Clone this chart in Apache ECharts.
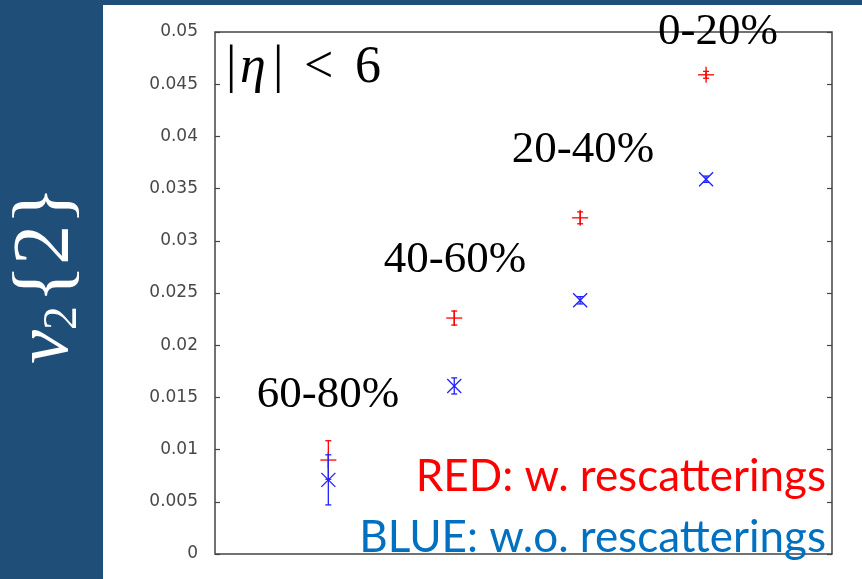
<!DOCTYPE html>
<html>
<head>
<meta charset="utf-8">
<script src="https://cdn.jsdelivr.net/npm/echarts@6/dist/echarts.min.js"></script>
<style>
  html, body { margin: 0; padding: 0; background: #1F4E79; }
  #chart { width: 862px; height: 579px; }
</style>
</head>
<body>
<div id="chart"></div>
<script>
// Centrality classes, left to right
const centralityClasses = ['60-80%', '40-60%', '20-40%', '0-20%'];
const classIndex = [1, 2, 3, 4];

// v2{2}, with hadronic rescatterings (red)
const redV2 = [0.0090, 0.0226, 0.0322, 0.0459];
const redErr = [0.00185, 0.00067, 0.00057, 0.00033];

// v2{2}, without rescatterings (blue)
const blueV2 = [0.0071, 0.0161, 0.0243, 0.0359];
const blueErr = [0.0024, 0.00077, 0.00035, 0.0003];

// y-axis ticks
const yMin = 0, yMax = 0.05, yStep = 0.005;

const chart = echarts.init(document.getElementById('chart'));

// error bar with caps plus a '+' or 'x' marker
function errorMarker(shape, color) {
  return function (params, api) {
    const x = api.value(0), y = api.value(1), e = api.value(2);
    const c = api.coord([x, y]);
    const top = api.coord([x, y + e]);
    const bot = api.coord([x, y - e]);
    const cap = 3, m = 8, d = 7;
    const style = { stroke: color, lineWidth: 1.3, fill: null };
    const children = [
      { type: 'line', shape: { x1: c[0], y1: top[1], x2: c[0], y2: bot[1] }, style },
      { type: 'line', shape: { x1: c[0] - cap, y1: top[1], x2: c[0] + cap, y2: top[1] }, style },
      { type: 'line', shape: { x1: c[0] - cap, y1: bot[1], x2: c[0] + cap, y2: bot[1] }, style }
    ];
    if (shape === 'plus') {
      children.push({ type: 'line', shape: { x1: c[0] - m, y1: c[1], x2: c[0] + m, y2: c[1] }, style });
      children.push({ type: 'line', shape: { x1: c[0], y1: c[1] - m, x2: c[0], y2: c[1] + m }, style });
    } else {
      children.push({ type: 'line', shape: { x1: c[0] - d, y1: c[1] - d, x2: c[0] + d, y2: c[1] + d }, style });
      children.push({ type: 'line', shape: { x1: c[0] - d, y1: c[1] + d, x2: c[0] + d, y2: c[1] - d }, style });
    }
    return { type: 'group', children };
  };
}

const serif = '"Liberation Serif"';
const labelPos = [[328, 408], [455, 273], [583, 163], [718, 45]];

// |eta| < 6, glyph by glyph
const etaCut = [
  { t: '|', x: 226, italic: false },
  { t: 'η', x: 240, italic: true },
  { t: '|', x: 273, italic: false },
  { t: '<', x: 304, italic: false },
  { t: '6', x: 355, italic: false }
];

chart.setOption({
  backgroundColor: 'transparent',
  animation: false,
  grid: { left: 215, right: 30, top: 32, bottom: 25, show: true, borderColor: '#444', borderWidth: 1.5, backgroundColor: 'transparent' },
  xAxis: {
    type: 'value', min: 0.1, max: 5.0,
    axisLine: { show: false }, axisTick: { show: false }, axisLabel: { show: false }, splitLine: { show: false }
  },
  yAxis: [
    {
      type: 'value', min: yMin, max: yMax, interval: yStep, position: 'left',
      axisLine: { show: false },
      axisTick: { show: true, inside: true, length: 5, lineStyle: { color: '#444', width: 1.2 } },
      axisLabel: {
        color: '#484848', fontFamily: 'DejaVu Sans', fontSize: 17, margin: 17,
        formatter: v => String(+v.toFixed(3))
      },
      splitLine: { show: false }
    },
    {
      type: 'value', min: yMin, max: yMax, interval: yStep, position: 'right',
      axisLine: { show: false },
      axisTick: { show: true, inside: true, length: 5, lineStyle: { color: '#444', width: 1.2 } },
      axisLabel: { show: false }, splitLine: { show: false }
    }
  ],
  series: [
    {
      type: 'custom', name: 'w. rescatterings',
      renderItem: errorMarker('plus', '#FF0000'),
      data: classIndex.map((x, i) => [x, redV2[i], redErr[i]]),
      z: 3
    },
    {
      type: 'custom', name: 'w.o. rescatterings',
      renderItem: errorMarker('cross', '#2020FF'),
      data: classIndex.map((x, i) => [x, blueV2[i], blueErr[i]]),
      z: 4
    }
  ],
  graphic: [
    { type: 'rect', z: -100, silent: true, shape: { x: 103, y: 5, width: 759, height: 574 }, style: { fill: '#ffffff' } },
    {
      type: 'text', x: 47, y: 275, rotation: Math.PI / 2, z: 10,
      style: {
        text: '{v|v}{s|2}{2}',
        fill: '#ffffff', font: '80px ' + serif, align: 'center', verticalAlign: 'middle',
        rich: {
          v: { fontFamily: 'Liberation Serif', fontStyle: 'italic', fontSize: 76, fill: '#ffffff' },
          s: { fontFamily: 'Liberation Serif', fontSize: 48, fill: '#ffffff', verticalAlign: 'bottom', padding: [0, 3, 0, 0] }
        }
      }
    },
    ...etaCut.map(g => ({
      type: 'text', x: g.x, y: 94, z: 10,
      style: { text: g.t, fill: '#000', font: (g.italic ? 'italic ' : '') + '52px ' + serif, align: 'left', verticalAlign: 'bottom' }
    })),
    ...centralityClasses.map((t, i) => ({
      type: 'text', x: labelPos[i][0], y: labelPos[i][1] + 10, z: 10,
      style: { text: t, fill: '#000', font: '45px ' + serif, align: 'center', verticalAlign: 'bottom' }
    })),
    {
      type: 'text', x: 826, y: 499, z: 10,
      style: { text: 'RED: w. rescatterings', fill: '#FF0000', font: '44px Lato', align: 'right', verticalAlign: 'bottom' }
    },
    {
      type: 'text', x: 826, y: 560, z: 10,
      style: { text: 'BLUE: w.o. rescatterings', fill: '#0070C0', font: '44px Lato', align: 'right', verticalAlign: 'bottom' }
    }
  ]
});
</script>
</body>
</html>
